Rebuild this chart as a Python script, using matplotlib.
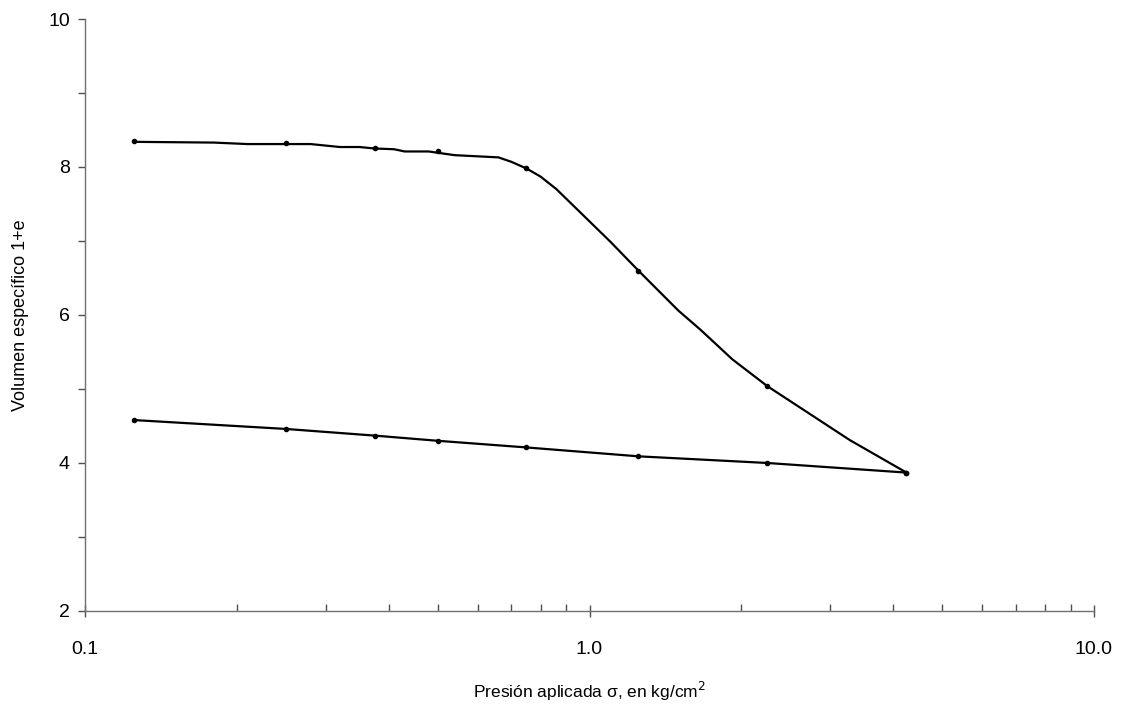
import matplotlib
matplotlib.use("Agg")
import matplotlib.pyplot as plt
from matplotlib.ticker import LogLocator, FixedLocator, NullFormatter, FixedFormatter

plt.rcParams['font.family'] = ['Liberation Sans', 'DejaVu Sans']

# Measured points (markers)
pressure = [0.125, 0.25, 0.375, 0.5, 0.75, 1.25, 2.25, 4.25]
loading_v = [8.35, 8.32, 8.26, 8.21, 7.99, 6.60, 5.04, 3.87]
unloading_v = [4.58, 4.46, 4.37, 4.30, 4.21, 4.09, 4.00, 3.87]

# Drawn curve of the loading branch (vertices)
curve_x = [0.125, 0.18, 0.21, 0.28, 0.32, 0.35, 0.375, 0.41, 0.43, 0.48, 0.54,
           0.66, 0.70, 0.75, 0.80, 0.86, 1.10, 1.25, 1.50, 1.66, 1.92, 2.25, 3.28, 4.25]
curve_y = [8.34, 8.33, 8.31, 8.31, 8.27, 8.27, 8.25, 8.24, 8.21, 8.21, 8.16,
           8.13, 8.07, 7.98, 7.87, 7.70, 6.99, 6.60, 6.06, 5.80, 5.40, 5.04, 4.31, 3.87]

x_ticks = [0.1, 1.0, 10.0]
x_tick_labels = ["0.1", "1.0", "10.0"]
y_ticks = [2, 4, 6, 8, 10]
y_minor = [3, 5, 7, 9]

fig = plt.figure(figsize=(11.25, 7.12), dpi=100)
ax = fig.add_axes([0.0756, 0.1419, 0.8968, 0.8314])

ax.plot(curve_x, curve_y, color='black', lw=1.6, solid_joinstyle='round')
ax.plot(pressure, loading_v, 'o', color='black', ms=3)
ax.plot(pressure, unloading_v, color='black', lw=1.6, marker='o', ms=3)

ax.set_xscale('log')
ax.set_xlim(0.1, 10)
ax.set_ylim(2, 10)

ax.xaxis.set_major_locator(FixedLocator(x_ticks))
ax.xaxis.set_major_formatter(FixedFormatter(x_tick_labels))
ax.xaxis.set_minor_locator(LogLocator(base=10, subs=range(2, 10)))
ax.xaxis.set_minor_formatter(NullFormatter())
ax.yaxis.set_major_locator(FixedLocator(y_ticks))
ax.yaxis.set_minor_locator(FixedLocator(y_minor))

for s in ['top', 'right']:
    ax.spines[s].set_visible(False)
for s in ['left', 'bottom']:
    ax.spines[s].set_color('#707070')
    ax.spines[s].set_linewidth(1.0)

ax.tick_params(axis='x', which='major', direction='inout', length=9, width=1,
               color='#505050', labelsize=14, pad=17)
ax.tick_params(axis='x', which='minor', direction='in', length=5, width=1,
               color='#505050')
ax.tick_params(axis='y', which='both', direction='out', length=5, width=1,
               color='#505050', labelsize=14, pad=6)

ax.set_xlabel("Presión aplicada σ, en kg/cm$^2$", fontsize=12.5, labelpad=16)
ax.set_ylabel("Volumen específico 1+e", fontsize=13, labelpad=14)

fig.savefig("out.png", dpi=100)
